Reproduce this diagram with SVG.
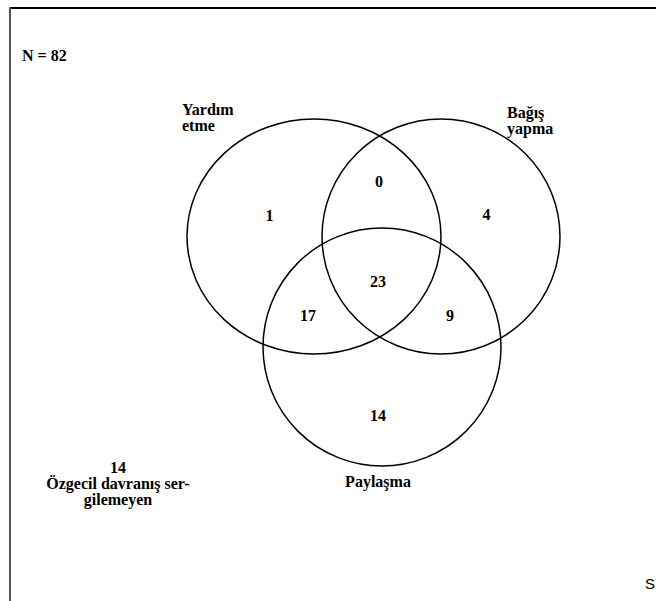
<svg xmlns="http://www.w3.org/2000/svg" width="656" height="601" viewBox="0 0 656 601">
<style>
.t{font-family:"Liberation Serif","Times New Roman",serif;font-weight:bold;font-size:16px;fill:#000}
.c{text-anchor:middle}
.set{fill:none;stroke:#000;stroke-width:1.5}
</style>
<rect width="656" height="601" fill="#fff"/>
<g id="frame">
<line x1="10" y1="8" x2="656" y2="8" stroke="#000" stroke-width="2"/>
<line x1="10" y1="7" x2="10" y2="601" stroke="#555" stroke-width="2"/>
</g>
<g id="connectors"></g>
<g id="set-yardim">
<ellipse class="set" cx="314" cy="236.5" rx="127" ry="117.5"/>
<text class="t" x="182" y="115">Yardım</text>
<text class="t" x="182" y="131">etme</text>
</g>
<g id="set-bagis">
<ellipse class="set" cx="441" cy="236.5" rx="119" ry="117.5"/>
<text class="t" x="507" y="118">Bağış</text>
<text class="t" x="507" y="134">yapma</text>
</g>
<g id="set-paylasma">
<circle class="set" cx="382" cy="347" r="119"/>
<text class="t c" x="378" y="487">Paylaşma</text>
</g>
<g id="counts">
<text class="t c" x="269.5" y="221">1</text>
<text class="t c" x="379" y="187">0</text>
<text class="t c" x="486.5" y="220">4</text>
<text class="t c" x="378" y="287">23</text>
<text class="t c" x="308" y="321">17</text>
<text class="t c" x="450" y="321">9</text>
<text class="t c" x="378" y="421">14</text>
</g>
<g id="none">
<text class="t c" x="118" y="473">14</text>
<text class="t c" x="118" y="489">Özgecil davranış ser-</text>
<text class="t c" x="118" y="505">gilemeyen</text>
</g>
<text class="t" x="22" y="61">N = 82</text>
<text x="645" y="589" font-family="Liberation Sans,Arial,sans-serif" font-size="15" fill="#000">S</text>
</svg>
